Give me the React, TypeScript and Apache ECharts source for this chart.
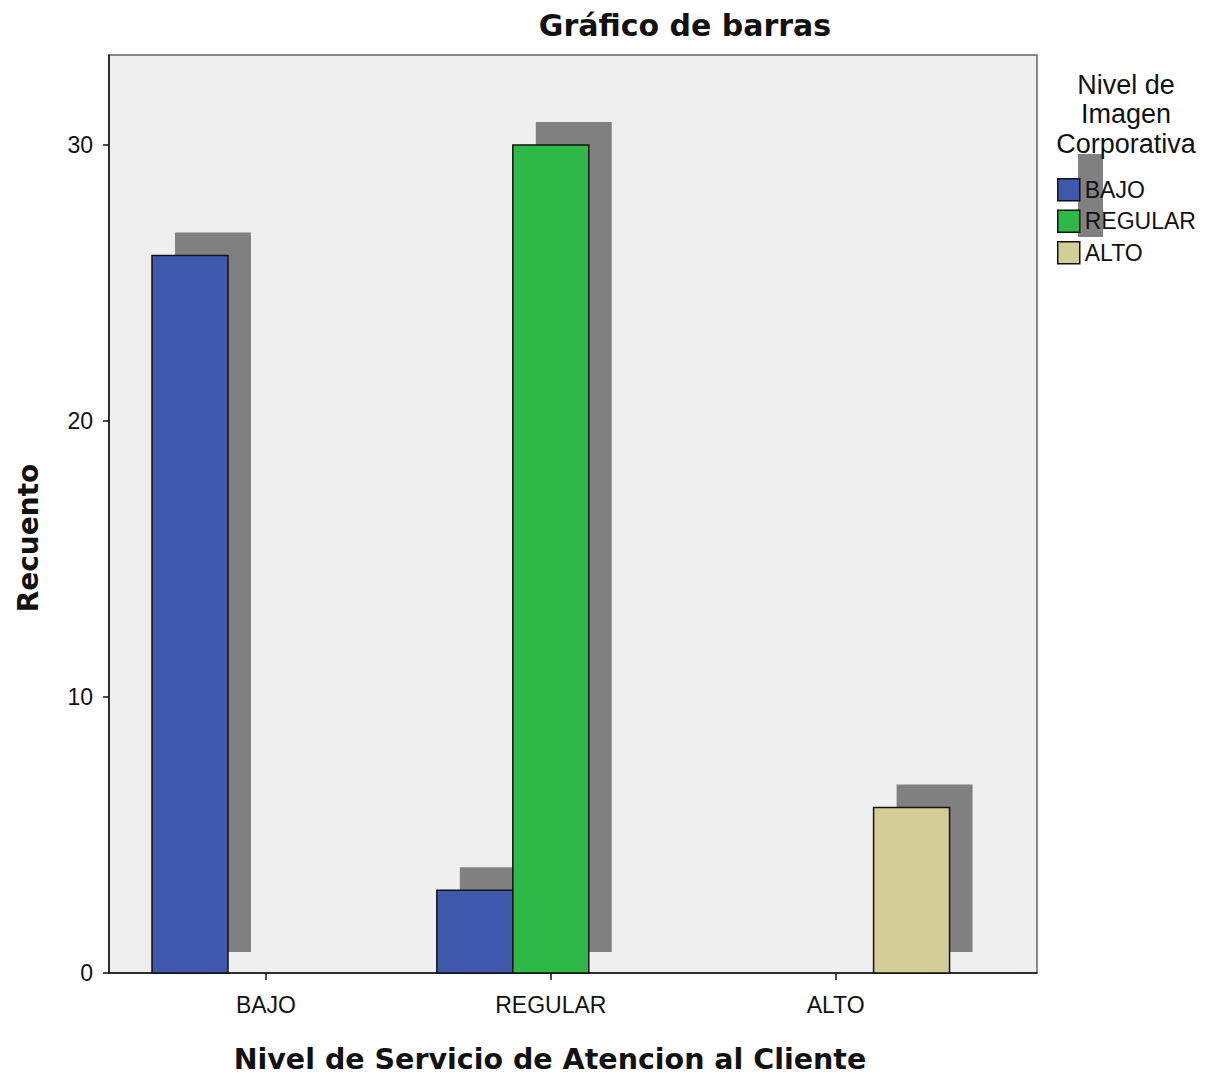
import React, { useEffect, useRef } from "react";
import * as echarts from "echarts";

// Service level categories on the x axis
const categories = ["BAJO", "REGULAR", "ALTO"];

// Counts per corporate image level (one value per service level)
const imageLevels = ["BAJO", "REGULAR", "ALTO"];
const countsBajo = [26, 3, 0];
const countsRegular = [0, 30, 0];
const countsAlto = [0, 0, 6];
const seriesValues = [countsBajo, countsRegular, countsAlto];
const seriesColors = ["#3E58AC", "#2EB848", "#D3CE97"];

const yTicks = [0, 10, 20, 30];
const xTicks = categories.map((_, i) => i);

const SHADOW_DX = 23;
const SHADOW_DY = 23;

function makeRenderItem(slot: number, color: string) {
  return (params: any, api: any) => {
    const catIdx = api.value(0);
    const v = api.value(1);
    if (!v) return null;
    const base = api.coord([catIdx, 0]);
    const top = api.coord([catIdx, v]);
    const band = api.size([1, 0])[0];
    const w = (band * 0.8) / 3;
    const x = base[0] - 1.5 * w + slot * w;
    const h = base[1] - top[1];
    return {
      type: "group",
      children: [
        {
          type: "rect",
          shape: { x: x + SHADOW_DX, y: top[1] - SHADOW_DY, width: w, height: h + 2 },
          style: { fill: "#808080" },
        },
        {
          type: "rect",
          shape: { x, y: top[1], width: w, height: h },
          style: { fill: color, stroke: "#111", lineWidth: 1.5 },
        },
      ],
    };
  };
}

export default function App() {
  const ref = useRef<HTMLDivElement>(null);

  useEffect(() => {
    if (!ref.current) return;
    const chart = echarts.init(ref.current, null, { renderer: "svg" });

    const series = imageLevels.map((name, i) => ({
      name,
      type: "custom",
      renderItem: makeRenderItem(i, seriesColors[i]),
      itemStyle: { color: seriesColors[i], borderColor: "#111", borderWidth: 1.5 },
      data: seriesValues[i].map((v, c) => [c, v]),
      z: 2 + i,
    }));

    chart.setOption({
      animation: false,
      backgroundColor: "#ffffff",
      title: {
        text: "Gráfico de barras",
        left: 680,
        top: 5,
        textAlign: "center",
        textStyle: {
          fontFamily: "DejaVu Sans",
          fontWeight: "bold",
          fontSize: 30,
          color: "#111",
        },
      },
      graphic: [
        {
          type: "text",
          x: 1126,
          y: 70,
          z: 10,
          style: {
            text: "Nivel de\nImagen\nCorporativa",
            fontFamily: "Liberation Sans",
            fontSize: 27,
            lineHeight: 29.5,
            fill: "#111",
            align: "center",
            verticalAlign: "top",
          },
        },
        {
          type: "rect",
          z: 1,
          shape: { x: 1078, y: 154, width: 25, height: 83 },
          style: { fill: "#808080" },
        },
        {
          type: "text",
          x: 550,
          y: 1059,
          z: 10,
          style: {
            text: "Nivel de Servicio de Atencion al Cliente",
            fontFamily: "DejaVu Sans",
            fontWeight: "bold",
            fontSize: 28.5,
            fill: "#111",
            align: "center",
            verticalAlign: "middle",
          },
        },
        {
          type: "text",
          x: 28,
          y: 538,
          rotation: Math.PI / 2,
          z: 10,
          style: {
            text: "Recuento",
            fontFamily: "DejaVu Sans",
            fontWeight: "bold",
            fontSize: 28,
            fill: "#111",
            align: "center",
            verticalAlign: "middle",
          },
        },
      ],
      legend: {
        orient: "vertical",
        left: 1057,
        top: 178,
        padding: 0,
        icon: "rect",
        itemWidth: 22,
        itemHeight: 22,
        itemGap: 8,
        z: 20,
        data: imageLevels,
        itemStyle: { borderColor: "#111", borderWidth: 1.5 },
        textStyle: { fontFamily: "Liberation Sans", fontSize: 23, color: "#111" },
      },
      grid: {
        left: 109,
        right: 181,
        top: 55,
        bottom: 105,
        show: true,
        backgroundColor: "#EFEFEF",
        borderColor: "#666",
        borderWidth: 1.5,
      },
      xAxis: {
        type: "value",
        min: -0.551,
        max: 2.707,
        axisLine: { show: true, onZero: false, lineStyle: { color: "#111", width: 1.5 } },
        axisTick: {
          show: true,
          customValues: xTicks,
          length: 7,
          lineStyle: { color: "#111", width: 1.5 },
        },
        axisLabel: {
          customValues: xTicks,
          formatter: (v: number) => categories[Math.round(v)] ?? "",
          fontFamily: "Liberation Sans",
          fontSize: 23,
          color: "#111",
          margin: 20,
        },
        splitLine: { show: false },
      },
      yAxis: {
        type: "value",
        min: 0,
        max: 33.26,
        interval: 10,
        axisLine: { show: true, onZero: false, lineStyle: { color: "#111", width: 1.5 } },
        axisTick: {
          show: true,
          length: 6,
          customValues: yTicks,
          lineStyle: { color: "#111", width: 1.5 },
        },
        axisLabel: {
          customValues: yTicks,
          fontFamily: "Liberation Sans",
          fontSize: 23,
          color: "#111",
          margin: 16,
        },
        splitLine: { show: false },
      },
      series,
    });

    return () => chart.dispose();
  }, []);

  return (
    <div
      ref={ref}
      style={{ position: "fixed", left: 0, top: 0, width: 1218, height: 1078 }}
    />
  );
}
